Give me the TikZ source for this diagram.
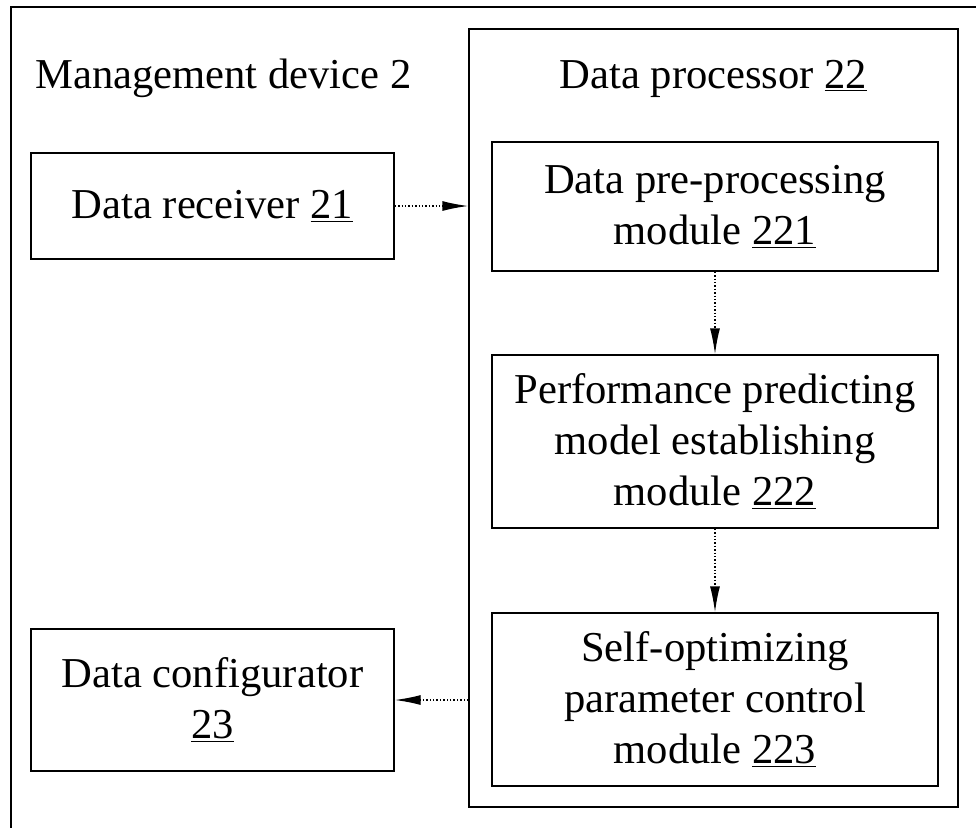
\documentclass[tikz,border=0pt]{standalone}
\usepackage{fontspec}
\setmainfont{Liberation Serif}
\usepackage{tikz}
\usetikzlibrary{arrows.meta,positioning}
\newcommand{\refnum}[1]{\underline{#1}}
\begin{document}
\begin{tikzpicture}[x=0.5pt, y=-0.5pt,
unit/.style={rectangle, draw, line width=0.7pt, inner sep=0pt, align=center, minimum width=223pt, font=\fontsize{21.3}{25.5}\selectfont},
side/.style={unit, minimum width=181.5pt},
label/.style={inner sep=0pt, font=\fontsize{21.3}{25.5}\selectfont},
flow/.style={-{Latex[length=13pt, width=5pt]}, densely dotted, line width=0.7pt}
]
\useasboundingbox (0,0) rectangle (976,827);
\clip (0,0) rectangle (976,827);
\draw[line width=0.7pt] (11,7) rectangle (1000,850);
\node[label, anchor=base west] (mgmt) at (35,88) {Management device 2};
\node[draw, line width=0.7pt, minimum width=244.5pt, minimum height=389pt, inner sep=0pt] (proc) at (713.5,418) {};
\node[label, anchor=base] (proctitle) at (713.5,88) {Data processor \refnum{22}};
\node[side, minimum height=53pt] (recv) at (212.5,206) {Data receiver \refnum{21}};
\node[unit, minimum height=64.5pt] (pre) at (715,206.5) {Data pre-processing\\module \refnum{221}};
\node[unit, minimum height=86.5pt] (perf) at (715,441.5) {Performance predicting\\model establishing\\module \refnum{222}};
\node[unit, minimum height=86.5pt] (selfopt) at (715,699.5) {Self-optimizing\\parameter control\\module \refnum{223}};
\node[side, minimum height=71pt] (conf) at (212.5,700) {Data configurator\\\refnum{23}};
\draw[flow] (recv) -- (proc.west |- recv);
\draw[flow] (pre) -- (perf);
\draw[flow] (perf) -- (selfopt);
\draw[flow] (proc.west |- conf) -- (conf);
\end{tikzpicture}
\end{document}
